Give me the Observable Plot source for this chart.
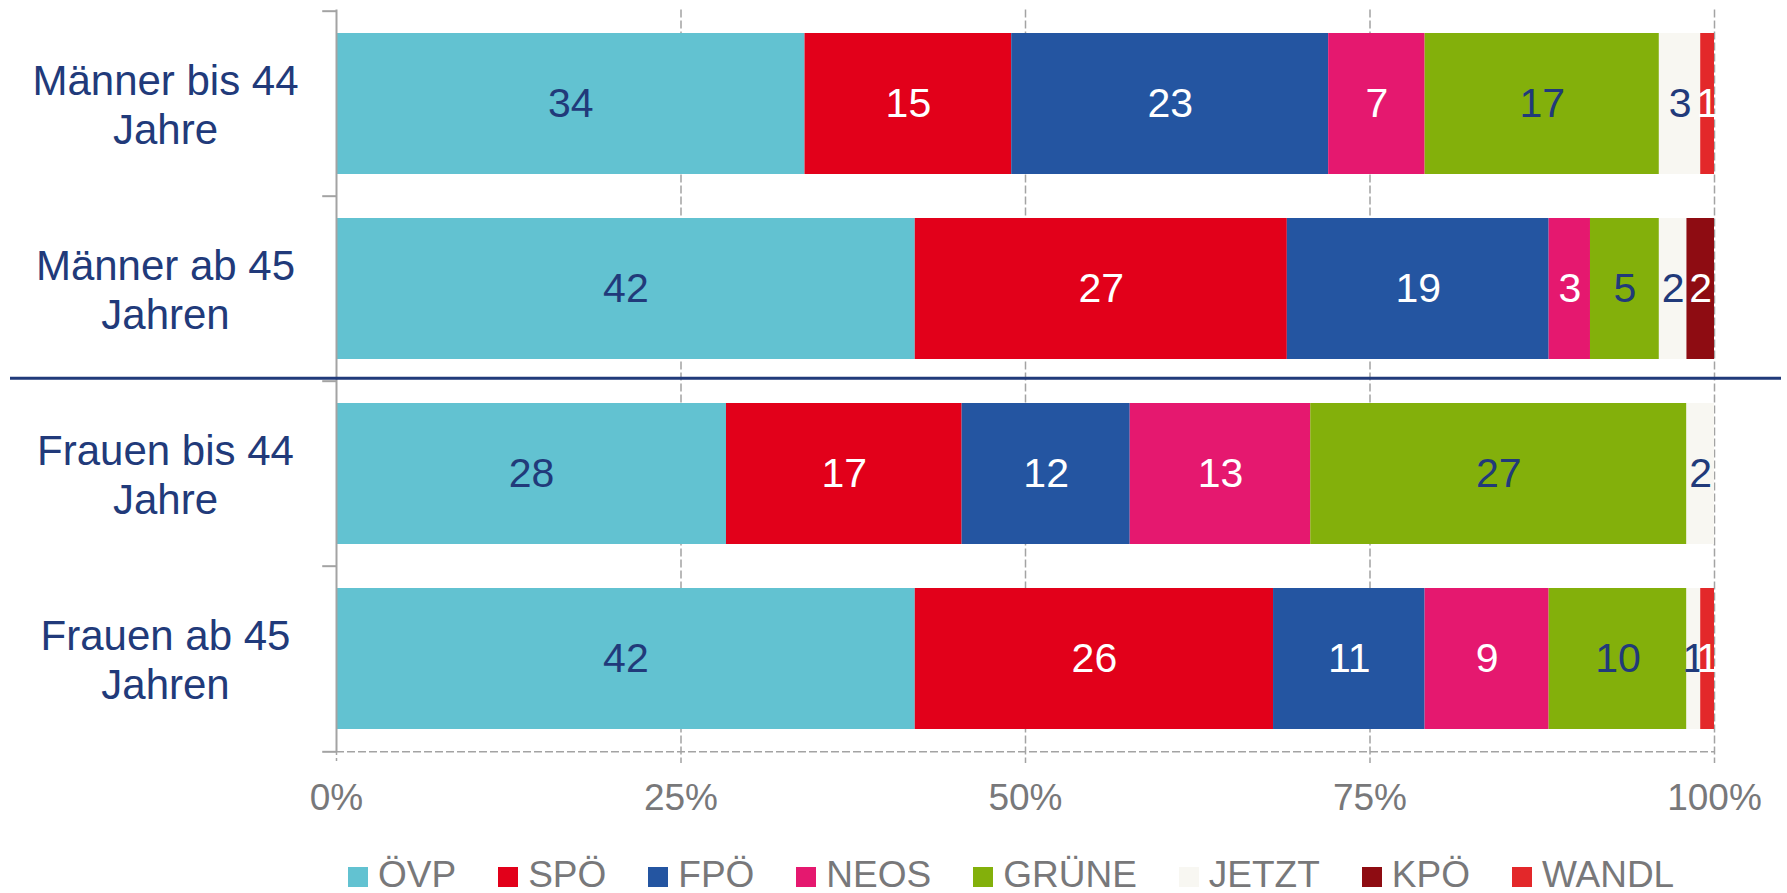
<!DOCTYPE html>
<html>
<head>
<meta charset="utf-8">
<script src="https://cdn.jsdelivr.net/npm/d3@7"></script>
<script src="https://cdn.jsdelivr.net/npm/@observablehq/plot@0.6"></script>
<style>
  html, body { margin: 0; padding: 0; background: #ffffff; }
  #wrap { position: relative; width: 1787px; height: 893px; font-family: "Liberation Sans", Arial, sans-serif; }
  #legend { position: absolute; left: 348px; top: 857px; height: 36px; display: flex; align-items: center; }
  .item { display: flex; align-items: center; margin-right: 42px; font-size: 37px; line-height: 36px; color: #78787a; }
  .sw { width: 20px; height: 20px; margin-right: 10px; transform: translateY(2px); }
</style>
</head>
<body>
<div id="wrap"><div id="chart"></div><div id="legend"></div></div>
<script>
// ---- data ----
const categories = ["Männer bis 44 Jahre", "Männer ab 45 Jahren", "Frauen bis 44 Jahre", "Frauen ab 45 Jahren"];
const categoryLabels = ["Männer bis 44\nJahre", "Männer ab 45\nJahren", "Frauen bis 44\nJahre", "Frauen ab 45\nJahren"];
const parties = ["ÖVP", "SPÖ", "FPÖ", "NEOS", "GRÜNE", "JETZT", "KPÖ", "WANDL"];
const partyColors = ["#62c2d1", "#e2001a", "#2455a1", "#e5186f", "#83b00b", "#f8f7f2", "#8e0c12", "#e3282a"];
const maennerBis44 = [34, 15, 23, 7, 17, 3, 0, 1];
const maennerAb45 = [42, 27, 19, 3, 5, 2, 2, 0];
const frauenBis44 = [28.3, 17.1, 12.2, 13.1, 27.3, 2.0, 0, 0];
const frauenAb45 = [42, 26, 11, 9, 10, 1, 0, 1];
const xTicks = [0, 25, 50, 75, 100];
const xGrid = [25, 50, 75, 100];
const darkLabelParties = ["ÖVP", "GRÜNE", "JETZT"];

const seriesByCategory = [maennerBis44, maennerAb45, frauenBis44, frauenAb45];
const rows = [];
categories.forEach((c, i) => parties.forEach((p, j) => rows.push({cat: c, party: p, value: seriesByCategory[i][j]})));

// ---- layout ----
const W = 1787, H = 848, mTop = 9.5, mBottom = 96, mLeft = 336, mRight = 73;
const step = (H - mTop - mBottom) / categories.length; // paddingOuter = paddingInner/2
const navy = "#213a7a";
const gray = "#a3a3a3";
const textGray = "#78787a";

const labelFor = (dark) => (d) =>
  d.value > 0 && darkLabelParties.includes(d.party) === dark ? String(Math.round(d.value)) : null;

const plot = Plot.plot({
  width: W, height: H,
  marginTop: mTop, marginBottom: mBottom, marginLeft: mLeft, marginRight: mRight,
  style: {fontFamily: "'Liberation Sans', Arial, sans-serif", background: "white", overflow: "visible"},
  x: {domain: [0, 100], axis: null},
  y: {domain: categories, paddingInner: 0.24, paddingOuter: 0.12, axis: null},
  color: {domain: parties, range: partyColors},
  marks: [
    // vertical dashed gridlines
    Plot.ruleX(xGrid, {x: d => d, stroke: gray, strokeWidth: 1.5, strokeDasharray: "8,3", insetBottom: -11}),
    // bottom dashed baseline
    Plot.ruleY([categories[categories.length - 1]], {y: d => d, dy: step / 2, x1: 0, x2: 100, stroke: gray, strokeWidth: 1.5, strokeDasharray: "8,3"}),
    // bars
    Plot.barX(rows, Plot.stackX({x: "value", y: "cat", fill: "party"})),
    // y axis line
    Plot.ruleX([0], {x: d => d, stroke: gray, strokeWidth: 2}),
    Plot.ruleX([0], {x: d => d, stroke: gray, strokeWidth: 1.5, strokeDasharray: "3,3", insetTop: H - mTop - mBottom, insetBottom: -11}),
    // y axis ticks at band boundaries
    Plot.ruleY(categories, {y: d => d, dy: -step / 2, x1: -1, x2: 0, stroke: gray, strokeWidth: 2}),
    Plot.ruleY([categories[categories.length - 1]], {y: d => d, dy: step / 2, x1: -1, x2: 0, stroke: gray, strokeWidth: 2}),
    // group separator
    Plot.ruleY([categories[2]], {y: d => d, dy: -step / 2 - 3, stroke: navy, strokeWidth: 3, insetLeft: -(mLeft - 10), insetRight: -(mRight - 6)}),
    // value labels
    Plot.text(rows, Plot.stackX({x: "value", y: "cat", text: labelFor(true), fill: navy, fontSize: 41})),
    Plot.text(rows, Plot.stackX({x: "value", y: "cat", text: labelFor(false), fill: "white", fontSize: 41})),
    // category labels
    Plot.text(categories, {y: d => d, text: (d, i) => categoryLabels[i], frameAnchor: "left", dx: -171, textAnchor: "middle", fill: navy, fontSize: 42, lineHeight: 1.17}),
    // x axis labels
    Plot.axisX(xTicks, {tickSize: 0, tickPadding: 31, fontSize: 37, fill: textGray, label: null, tickFormat: d => d + "%"})
  ]
});
document.getElementById("chart").appendChild(plot);

// ---- legend ----
const legend = document.getElementById("legend");
parties.forEach((p, i) => {
  const item = document.createElement("div");
  item.className = "item";
  const sw = document.createElement("div");
  sw.className = "sw";
  sw.style.background = partyColors[i];
  const t = document.createElement("span");
  t.textContent = p;
  item.appendChild(sw);
  item.appendChild(t);
  legend.appendChild(item);
});
</script>
</body>
</html>
